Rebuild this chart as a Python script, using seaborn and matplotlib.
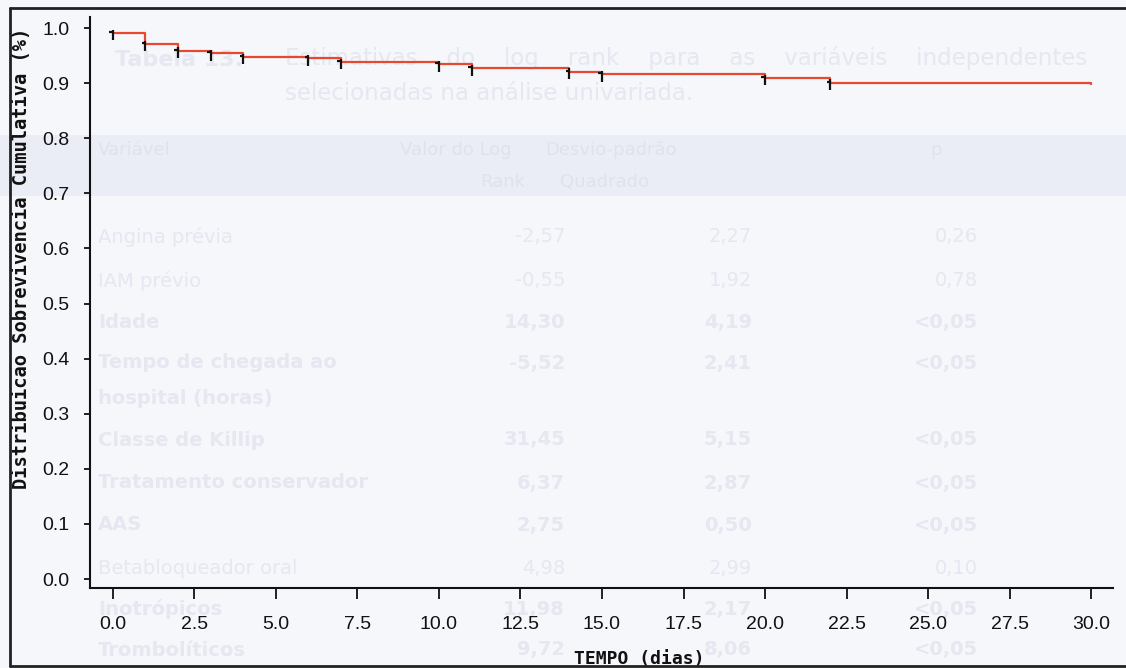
#Numpy and Pandas for Data Processing
import numpy as np
import pandas as pd

#Import matplotlib and required libraries
import matplotlib
matplotlib.use('Agg')
from matplotlib import pyplot as plt
from matplotlib.path import Path
from matplotlib.patches import Rectangle
from matplotlib.lines import Line2D

#Seaborn for the curve
import seaborn as sns

# Kaplan-Meier estimate
tempoDias = [0, 1, 2, 3, 4, 6, 7, 10, 11, 14, 15, 20, 22, 30]
sobrevivencia = [0.991, 0.971, 0.959, 0.954, 0.948, 0.945, 0.939,
                 0.934, 0.927, 0.921, 0.916, 0.909, 0.901, 0.899]

# Times with a mark on the curve (all but the last point)
marcasTempo = tempoDias[:-1]
marcasSobrevivencia = sobrevivencia[:-1]

xTicks = [0.0, 2.5, 5.0, 7.5, 10.0, 12.5, 15.0, 17.5, 20.0, 22.5, 25.0, 27.5, 30.0]
yTicks = [0.0, 0.1, 0.2, 0.3, 0.4, 0.5, 0.6, 0.7, 0.8, 0.9, 1.0]

# Faded table showing through from the other side of the page
tabelaVariaveis = ['Angina prévia', 'IAM prévio', 'Idade', 'Tempo de chegada ao',
                   'Classe de Killip', 'Tratamento conservador', 'AAS',
                   'Betabloqueador oral', 'Inotrópicos', 'Trombolíticos']
tabelaNegrito = [False, False, True, True, True, True, True, False, True, True]
tabelaLogRank = ['-2,57', '-0,55', '14,30', '-5,52', '31,45', '6,37', '2,75', '4,98', '11,98', '9,72']
tabelaDesvio = ['2,27', '1,92', '4,19', '2,41', '5,15', '2,87', '0,50', '2,99', '2,17', '8,06']
tabelaP = ['0,26', '0,78', '<0,05', '<0,05', '<0,05', '<0,05', '<0,05', '0,10', '<0,05', '<0,05']
tabelaLinhaY = [237, 281, 323, 363, 440, 483, 525, 568, 609, 650]

W, H = 1126, 668

sns.set_style('ticks')
plt.rcParams['font.family'] = ['Liberation Sans', 'DejaVu Sans']

fig = plt.figure(figsize=(W / 100, H / 100), dpi=100)
fig.patch.set_facecolor('#f6f7fb')

# Ghost table (drawn behind the axes)
ghost = '#e5e7f1'
fig.patches.append(Rectangle((0, 1 - 196 / H), 1, 61 / H, transform=fig.transFigure,
                             facecolor='#ebedf6', edgecolor='none', zorder=-3))
fig.text(115 / W, 1 - 60 / H, 'Tabela 13.', fontsize=16, fontweight='bold', color=ghost,
         family='DejaVu Sans', va='center', zorder=-2)
fig.text(285 / W, 1 - 58 / H, 'Estimativas    do    log    rank    para    as    variáveis    independentes',
         fontsize=16.5, color=ghost, family='DejaVu Sans', va='center', zorder=-2)
fig.text(285 / W, 1 - 93 / H, 'selecionadas na análise univariada.',
         fontsize=16.5, color=ghost, family='DejaVu Sans', va='center', zorder=-2)
for label, x, y in [('Variável', 98, 150), ('Valor do Log', 400, 150), ('Rank', 480, 182),
                    ('Desvio-padrão', 545, 150), ('Quadrado', 560, 182), ('p', 930, 150)]:
    fig.text(x / W, 1 - y / H, label, fontsize=13, color='#dfe1ed', family='DejaVu Sans',
             va='center', zorder=-2)
for i, nome in enumerate(tabelaVariaveis):
    peso = 'bold' if tabelaNegrito[i] else 'normal'
    y = 1 - tabelaLinhaY[i] / H
    fig.text(98 / W, y, nome, fontsize=14, fontweight=peso, color=ghost,
             family='DejaVu Sans', va='center', zorder=-2)
    fig.text(565 / W, y, tabelaLogRank[i], fontsize=14, fontweight=peso, color=ghost,
             family='DejaVu Sans', va='center', ha='right', zorder=-2)
    fig.text(752 / W, y, tabelaDesvio[i], fontsize=14, fontweight=peso, color=ghost,
             family='DejaVu Sans', va='center', ha='right', zorder=-2)
    fig.text(978 / W, y, tabelaP[i], fontsize=14, fontweight=peso, color=ghost,
             family='DejaVu Sans', va='center', ha='right', zorder=-2)
fig.text(98 / W, 1 - 398 / H, 'hospital (horas)', fontsize=14, fontweight='bold', color=ghost,
         family='DejaVu Sans', va='center', zorder=-2)

# Page frame (left, top and bottom edges)
for xs, ys in [([10, 10], [8, 666]), ([10, W], [8, 8]), ([10, W], [666, 666])]:
    fig.add_artist(Line2D([x / W for x in xs], [1 - y / H for y in ys],
                          transform=fig.transFigure, color='#222222', linewidth=2))

# Axes placed to match the scan
ax = fig.add_axes([90 / W, 1 - 588 / H, 1023 / W, 571 / H])
ax.patch.set_alpha(0)

# Step curve
df = pd.DataFrame({'tempo': tempoDias, 'sobrevivencia': sobrevivencia})
sns.lineplot(data=df, x='tempo', y='sobrevivencia', estimator=None, drawstyle='steps-post',
             color='#e8482f', linewidth=1.6, ax=ax, zorder=3)

# Censor marks: vertical tick with a small nub on the left
marcaPath = Path([(0, 0.3), (0, -0.7), (-0.35, 0.1), (0, 0.1)],
                 [Path.MOVETO, Path.LINETO, Path.MOVETO, Path.LINETO])
dfMarcas = pd.DataFrame({'tempo': marcasTempo, 'sobrevivencia': marcasSobrevivencia})
sns.scatterplot(data=dfMarcas, x='tempo', y='sobrevivencia', marker=marcaPath, s=110,
                facecolor='none', edgecolor='#111111', linewidth=1.6, ax=ax, zorder=4)

# Limits and ticks
ax.set_xlim(-0.7, 30.67)
ax.set_ylim(-0.0163, 1.02)
ax.set_xticks(xTicks)
ax.set_yticks(yTicks)
ax.set_xticklabels([f'{t:.1f}' for t in xTicks])
ax.set_yticklabels([f'{t:.1f}' for t in yTicks])
ax.tick_params(axis='x', direction='out', length=8, width=1.3, pad=12, labelsize=14, colors='#111111')
ax.tick_params(axis='y', direction='out', length=4, width=1.3, pad=11, labelsize=14, colors='#111111')

sns.despine(ax=ax)
for side in ['left', 'bottom']:
    ax.spines[side].set_linewidth(1.5)
    ax.spines[side].set_color('#111111')

# Axis labels in the old monospaced font
ax.set_xlabel('TEMPO (dias)', family='DejaVu Sans Mono', fontweight='bold', fontsize=13, color='#111111')
ax.set_ylabel('Distribuicao Sobrevivencia Cumulativa (%)', family='DejaVu Sans Mono',
              fontweight='bold', fontsize=13.5, color='#111111')
ax.xaxis.set_label_coords(0.537, -0.108)
ax.yaxis.set_label_coords(-0.058, 0.578)

fig.savefig('out.png', dpi=100, facecolor=fig.get_facecolor())
